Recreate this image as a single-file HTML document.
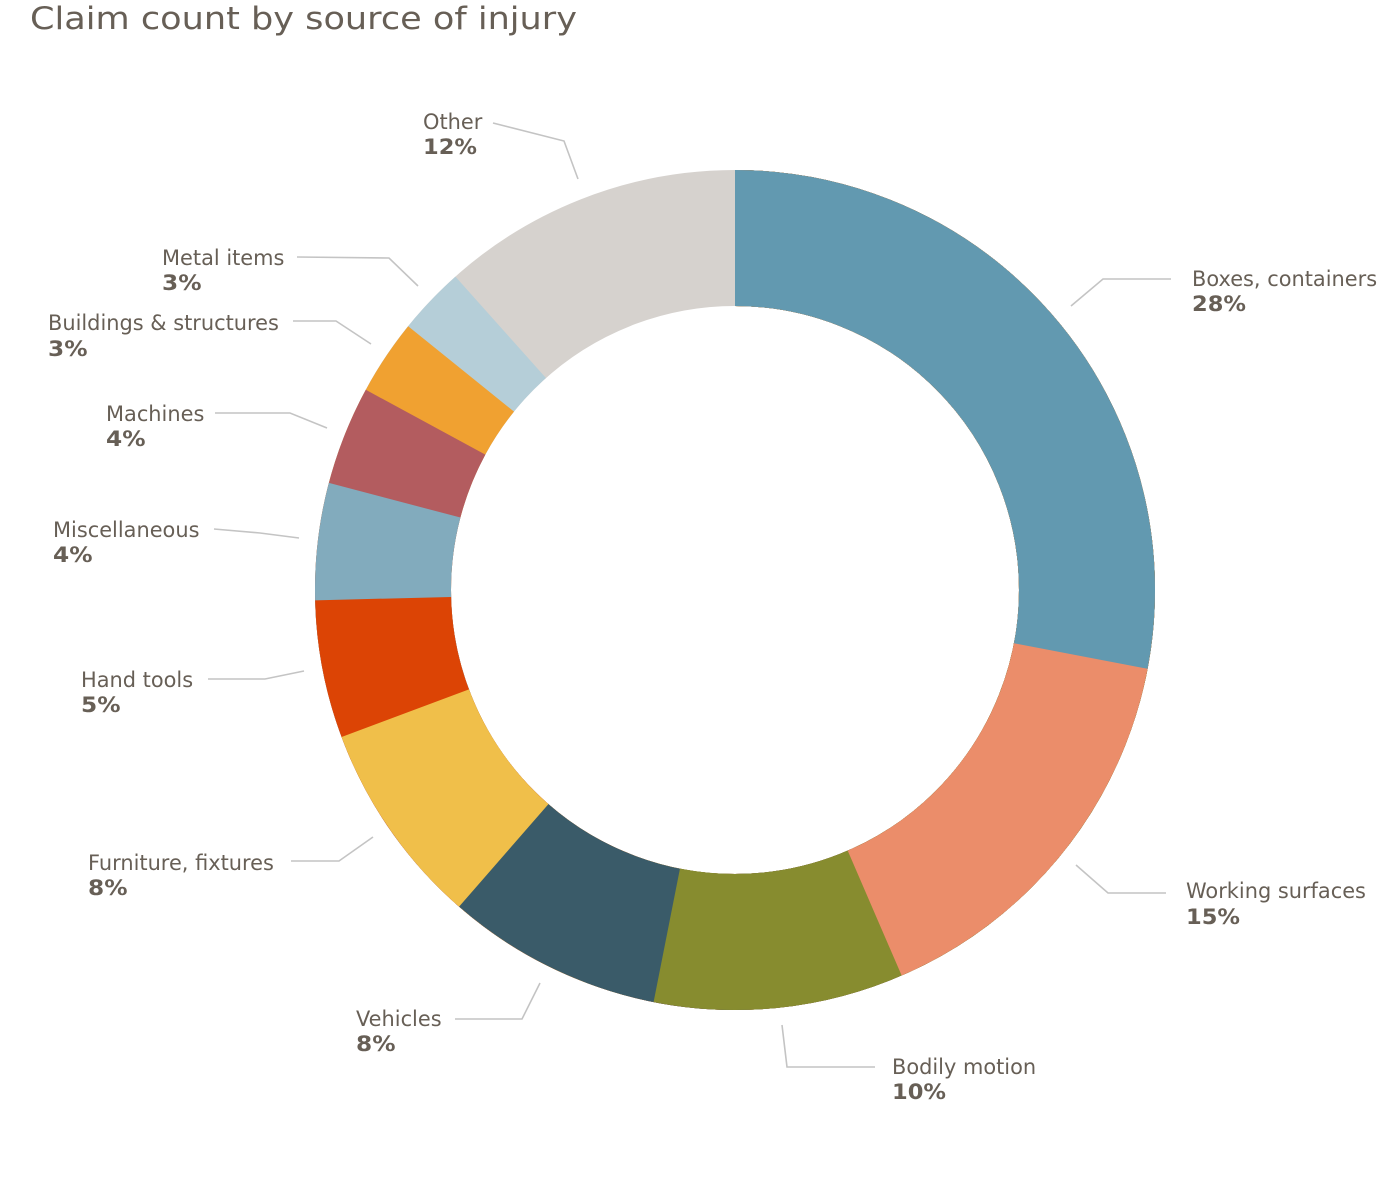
<!DOCTYPE html>
<html>
<head>
<meta charset="utf-8">
<style>
  html, body { margin: 0; padding: 0; background: #ffffff; }
  body { width: 1380px; height: 1198px; overflow: hidden; }
  svg { display: block; }
  .lbl { font-family: "DejaVu Sans", "Liberation Sans", sans-serif; font-size: 20.9px; fill: #675f56; }
  .pct { font-family: "DejaVu Sans", "Liberation Sans", sans-serif; font-size: 20.9px; font-weight: bold; fill: #675f56; }
  .ld { fill: none; stroke: #c4c4c4; stroke-width: 1.6; }
</style>
</head>
<body>
<svg width="1380" height="1198" viewBox="0 0 1380 1198" xmlns="http://www.w3.org/2000/svg">
  <text x="30" y="29" font-family="DejaVu Sans, Liberation Sans, sans-serif" font-size="31" fill="#675f56" textLength="547" lengthAdjust="spacingAndGlyphs">Claim count by source of injury</text>

  <g transform="rotate(-90 735 590)" fill="none" stroke-width="136">
    <circle cx="735" cy="590" r="352" stroke="#D6D2CE"/>
    <circle cx="735" cy="590" r="352" stroke="#B5CED8" stroke-dasharray="1955.1 9999"/>
    <circle cx="735" cy="590" r="352" stroke="#F0A131" stroke-dasharray="1897.6 9999"/>
    <circle cx="735" cy="590" r="352" stroke="#B35C5F" stroke-dasharray="1833.5 9999"/>
    <circle cx="735" cy="590" r="352" stroke="#82ABBD" stroke-dasharray="1749.4 9999"/>
    <circle cx="735" cy="590" r="352" stroke="#DC4405" stroke-dasharray="1649.9 9999"/>
    <circle cx="735" cy="590" r="352" stroke="#F0BF4A" stroke-dasharray="1532.7 9999"/>
    <circle cx="735" cy="590" r="352" stroke="#3A5B69" stroke-dasharray="1358.0 9999"/>
    <circle cx="735" cy="590" r="352" stroke="#878C2F" stroke-dasharray="1174.4 9999"/>
    <circle cx="735" cy="590" r="352" stroke="#EB8D6A" stroke-dasharray="962.1 9999"/>
    <circle cx="735" cy="590" r="352" stroke="#6299B0" stroke-dasharray="619.3 9999"/>
  </g>

  <!-- leader lines -->
  <polyline class="ld" points="493,123 564,141 578,179"/>
  <polyline class="ld" points="297,257 389,258 418,286"/>
  <polyline class="ld" points="293,321 336,321 371,344"/>
  <polyline class="ld" points="215,413 290,413 327,428"/>
  <polyline class="ld" points="214,529 260,533 299,538"/>
  <polyline class="ld" points="208,679 265,679 304,671"/>
  <polyline class="ld" points="291,861 339,861 373,837"/>
  <polyline class="ld" points="455,1019 522,1019 540,983"/>
  <polyline class="ld" points="782,1025 787,1067 875,1067"/>
  <polyline class="ld" points="1076,865 1108,893 1166,893"/>
  <polyline class="ld" points="1071,306 1103,279 1171,279"/>

  <!-- labels -->
  <text class="lbl" x="423" y="129">Other</text>
  <text class="pct" x="423" y="154" textLength="54" lengthAdjust="spacingAndGlyphs">12%</text>

  <text class="lbl" x="162" y="265">Metal items</text>
  <text class="pct" x="162" y="290" textLength="39.5" lengthAdjust="spacingAndGlyphs">3%</text>

  <text class="lbl" x="48" y="330">Buildings &amp; structures</text>
  <text class="pct" x="48" y="356" textLength="39.5" lengthAdjust="spacingAndGlyphs">3%</text>

  <text class="lbl" x="106" y="421">Machines</text>
  <text class="pct" x="106" y="446" textLength="39.5" lengthAdjust="spacingAndGlyphs">4%</text>

  <text class="lbl" x="53" y="537">Miscellaneous</text>
  <text class="pct" x="53" y="562" textLength="39.5" lengthAdjust="spacingAndGlyphs">4%</text>

  <text class="lbl" x="81" y="687">Hand tools</text>
  <text class="pct" x="81" y="712" textLength="39.5" lengthAdjust="spacingAndGlyphs">5%</text>

  <text class="lbl" x="88" y="870">Furniture, fixtures</text>
  <text class="pct" x="88" y="895" textLength="39.5" lengthAdjust="spacingAndGlyphs">8%</text>

  <text class="lbl" x="356" y="1026">Vehicles</text>
  <text class="pct" x="356" y="1051" textLength="39.5" lengthAdjust="spacingAndGlyphs">8%</text>

  <text class="lbl" x="892" y="1074">Bodily motion</text>
  <text class="pct" x="892" y="1099" textLength="54" lengthAdjust="spacingAndGlyphs">10%</text>

  <text class="lbl" x="1186" y="898">Working surfaces</text>
  <text class="pct" x="1186" y="924" textLength="54" lengthAdjust="spacingAndGlyphs">15%</text>

  <text class="lbl" x="1192" y="286">Boxes, containers</text>
  <text class="pct" x="1192" y="311" textLength="54" lengthAdjust="spacingAndGlyphs">28%</text>
</svg>
</body>
</html>
